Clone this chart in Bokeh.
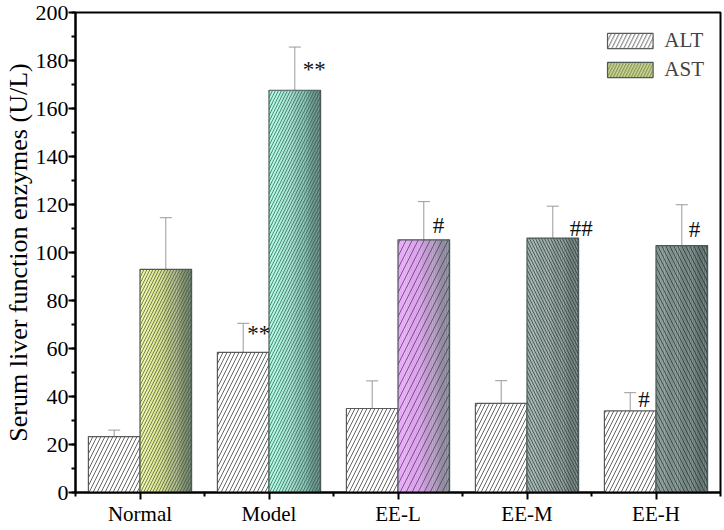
from bokeh.plotting import figure
from bokeh.models import (ColumnDataSource, Whisker, TeeHead, FixedTicker,
                          SingleIntervalTicker, Legend, LegendItem, Range1d)
from bokeh.core.properties import value
from bokeh.embed import file_html
from bokeh.resources import INLINE

# ---------------- data ----------------
categories = ["Normal", "Model", "EE-L", "EE-M", "EE-H"]
alt_mean = [23.3, 58.4, 35.0, 37.1, 34.0]
alt_err = [2.7, 12.1, 11.5, 9.5, 7.6]
ast_mean = [93.0, 167.6, 105.3, 106.0, 102.9]
ast_err = [21.5, 18.0, 15.9, 13.3, 17.0]
y_ticks_max = 200

ann_cat = [2, 2, 3, 4, 5, 5]
ann_series = ["ALT", "AST", "AST", "AST", "ALT", "AST"]
ann_text = ["**", "**", "#", "##", "#", "#"]

# ---------------- style ----------------
FONT = "Liberation Serif"
BAR_W = 0.4
ast_left_colors = ["#eef59a", "#aef7e0", "#e8a8f8", "#a2b2ae", "#849591"]
ast_right_colors = ["#64766a", "#5a807a", "#7a8688", "#6a7876", "#5c6c6a"]
ast_hatch = ["/", "/", "/", "\\", "\\"]
ast_hatch_scale = [6, 6, 12, 6, 8]
ast_hatch_color = ["#3a4a30", "#2a5048", "#4a2a60", "#1e2e2c", "#1e2e2c"]
ann_dx = [4, 8, 9, 17, 8, 7]
ann_dy = [-2, 10, 11, 10, -6, 12]

xs = list(range(1, len(categories) + 1))
x_alt = [x - BAR_W / 2 for x in xs]
x_ast = [x + BAR_W / 2 for x in xs]

p = figure(width=722, height=528, output_backend="svg", toolbar_location=None,
           x_range=Range1d(0.5, len(categories) + 0.5),
           y_range=Range1d(0, y_ticks_max),
           min_border_left=40, min_border_right=2, min_border_top=12,
           min_border_bottom=34)
p.xgrid.visible = False
p.ygrid.visible = False
p.outline_line_color = "black"
p.outline_line_width = 2
p.outline_line_alpha = 1
p.background_fill_color = "white"
p.border_fill_color = "white"


def hex2rgb(h):
    h = h.lstrip("#")
    return tuple(int(h[i:i + 2], 16) for i in (0, 2, 4))


def mix(c1, c2, t):
    a, b = hex2rgb(c1), hex2rgb(c2)
    return "#%02x%02x%02x" % tuple(int(round(a[i] + (b[i] - a[i]) * t)) for i in range(3))


# ALT bars
alt_src = ColumnDataSource(dict(x=x_alt, top=alt_mean))
alt_r = p.vbar(x="x", top="top", width=BAR_W, source=alt_src, fill_color="white",
               line_color="#5a5a5a", line_width=1.2, hatch_pattern="/",
               hatch_scale=8, hatch_color="#555555", hatch_weight=0.9)

# AST gradient bars (slices); the first row is a mid-tone slice (used for the legend)
N = 24
order = [int(N * 0.45)] + [k for k in range(N) if k != int(N * 0.45)]
gx, gtop, gcol, gw = [], [], [], []
for i in range(len(categories)):
    for k in order:
        t = k / (N - 1)
        gx.append(x_ast[i] - BAR_W / 2 + (k + 0.5) * BAR_W / N)
        gtop.append(ast_mean[i])
        gcol.append(mix(ast_left_colors[i], ast_right_colors[i], t ** 1.8))
        gw.append(BAR_W / N * 1.08)
grad_r = p.vbar(x="x", top="top", width="w",
                source=ColumnDataSource(dict(x=gx, top=gtop, w=gw, c=gcol)),
                fill_color="c", line_color=None)

# AST hatch overlays + outline
ast_src = ColumnDataSource(dict(x=x_ast, top=ast_mean, hp=ast_hatch,
                                hs=ast_hatch_scale, hc=ast_hatch_color))
ast_r = p.vbar(x="x", top="top", width=BAR_W, source=ast_src, fill_color=None,
               line_color="#4a5a58", line_width=1.2, hatch_pattern="hp",
               hatch_scale="hs", hatch_color="hc", hatch_weight=0.9, hatch_alpha=0.75)

# error bars
err_src = ColumnDataSource(dict(
    x=x_alt + x_ast,
    lo=[m - e for m, e in zip(alt_mean, alt_err)] + [m - e for m, e in zip(ast_mean, ast_err)],
    hi=[m + e for m, e in zip(alt_mean, alt_err)] + [m + e for m, e in zip(ast_mean, ast_err)]))
wcol = "#999999"
p.add_layout(Whisker(source=err_src, base="x", lower="lo", upper="hi",
                     line_color=wcol, line_width=1,
                     upper_head=TeeHead(size=12, line_color=wcol, line_width=1),
                     lower_head=TeeHead(size=12, line_color=wcol, line_width=1)))

# annotations
ax, ay = [], []
for c, s in zip(ann_cat, ann_series):
    i = c - 1
    if s == "ALT":
        ax.append(x_alt[i]); ay.append(alt_mean[i] + alt_err[i])
    else:
        ax.append(x_ast[i]); ay.append(ast_mean[i] + ast_err[i])
p.text(x="x", y="y", text="t", x_offset="dx", y_offset="dy",
       source=ColumnDataSource(dict(x=ax, y=ay, t=ann_text, dx=ann_dx, dy=ann_dy)),
       text_font=value(FONT), text_font_size="23px", text_color="#111111",
       text_baseline="top", text_align="left")

# axes
yaxis = p.yaxis[0]
yaxis.ticker = SingleIntervalTicker(interval=20, num_minor_ticks=2)
yaxis.axis_label = "Serum liver function enzymes (U/L)"
xaxis = p.xaxis[0]
xaxis.ticker = FixedTicker(ticks=xs, minor_ticks=[x - 0.5 for x in xs] + [xs[-1] + 0.5])
xaxis.major_label_overrides = {x: c for x, c in zip(xs, categories)}
for ax_ in (xaxis, yaxis):
    ax_.axis_line_width = 2
    ax_.axis_line_color = "black"
    ax_.major_tick_line_width = 2
    ax_.minor_tick_line_width = 2
    ax_.major_tick_in = 0
    ax_.minor_tick_in = 0
    ax_.major_tick_out = 7
    ax_.minor_tick_out = 4
    ax_.major_label_text_font = FONT
    ax_.major_label_text_color = "black"
    ax_.axis_label_text_font = FONT
    ax_.axis_label_text_font_style = "normal"
    ax_.axis_label_text_color = "black"
yaxis.major_label_text_font_size = "22px"
xaxis.major_label_text_font_size = "21px"
yaxis.axis_label_text_font_size = "26px"
yaxis.major_label_standoff = 0
xaxis.major_label_standoff = 2
yaxis.axis_label_standoff = 0

legend = Legend(items=[LegendItem(label="ALT", renderers=[alt_r], index=0),
                       LegendItem(label="AST", renderers=[grad_r, ast_r], index=0)],
                location="top_right", margin=16, padding=6, spacing=4,
                glyph_width=57, glyph_height=19, label_standoff=6,
                label_text_font=FONT, label_text_font_size="21px",
                border_line_color=None, background_fill_alpha=0)
p.add_layout(legend)

open("out.html", "w").write(file_html(p, INLINE))
